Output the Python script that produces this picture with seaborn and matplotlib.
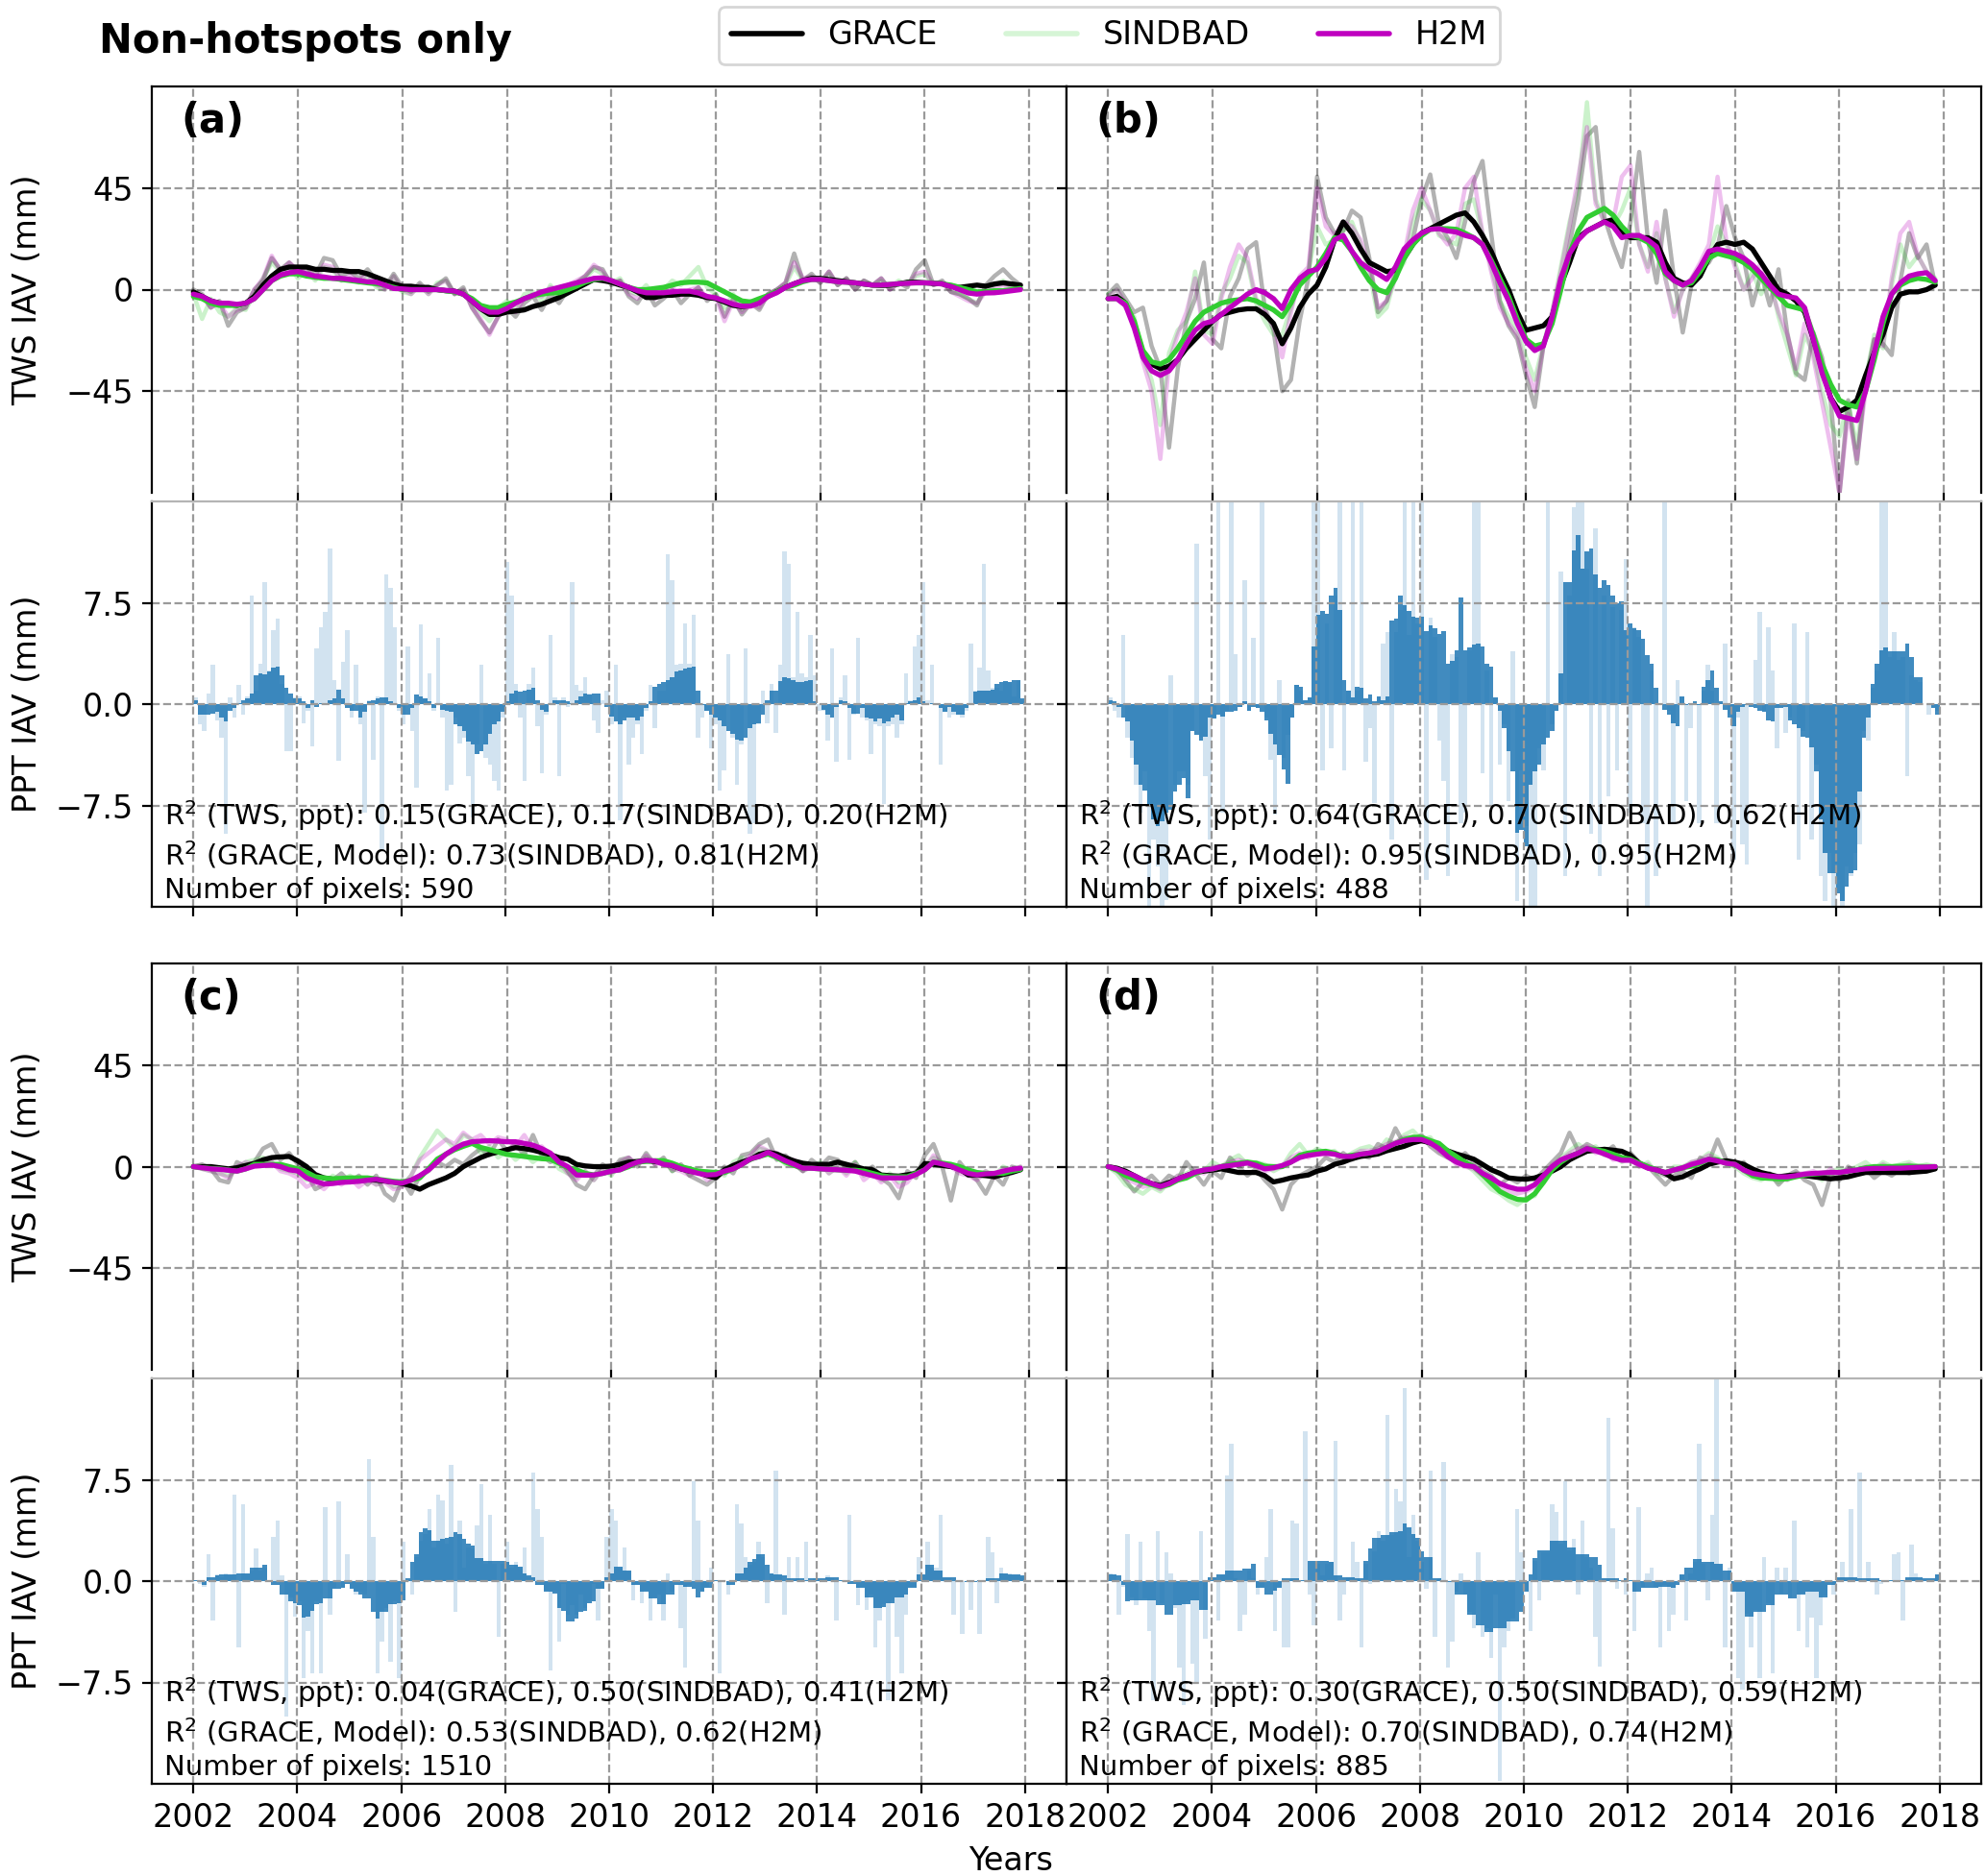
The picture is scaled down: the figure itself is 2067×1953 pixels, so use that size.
import numpy as np
import matplotlib
matplotlib.use("Agg")
import matplotlib.pyplot as plt
from matplotlib.lines import Line2D
import seaborn as sns

# ------------------------------------------------------------------
# Time axes (decimal years): monthly bars, bi-monthly line samples
# ------------------------------------------------------------------
months = 2002 + np.arange(192) / 12.0
bimonths = 2002 + np.arange(96) / 6.0

series_names = ["GRACE", "SINDBAD", "H2M"]
panel_labels = ["(a)", "(b)", "(c)", "(d)"]
r2_tws_ppt = [[0.15, 0.17, 0.20], [0.64, 0.70, 0.62], [0.04, 0.50, 0.41], [0.30, 0.50, 0.59]]
r2_grace_model = [[0.73, 0.81], [0.95, 0.95], [0.53, 0.62], [0.70, 0.74]]
n_pixels = [590, 488, 1510, 885]

# ------------------------------------------------------------------
# Panel (a)
# ------------------------------------------------------------------
a_grace_sm = [-1, -3, -5, -6, -6.5, -7, -6, -3, 2, 6, 9, 10, 10, 10, 9, 9, 8.5, 8.5,
              8, 8, 7, 5.5, 4, 2.5, 1.5, 1.5, 1, 1, 0, -0.5, -0.7, -2, -5, -8.5, -11, -11,
              -10, -9.5, -9, -7.5, -6.5, -5, -3.5, -1.5, 0.5, 2.5, 4.5, 4, 3.3, 2, 1, -1, -3.5, -3.5,
              -2.6, -2.5, -2, -2, -2.5, -3.5, -4, -5.5, -7, -7.5, -7, -5, -3, -1, 1, 2.6, 4, 5,
              5, 4.5, 4, 3.5, 3, 2.5, 2, 1.8, 2, 2.5, 3.3, 3.3, 3, 2.8, 2.6, 1.5, 1, 1.5,
              2, 1.5, 2.5, 3, 2.5, 2]
a_sind_sm = [-3, -4, -6, -7, -7, -7, -6, -4, 0, 4, 6, 7, 7, 6, 5.5, 5, 5, 4.5,
             4, 3.5, 3, 2.6, 2, 1, 0, 0, 0, 0, 0, -0.5, -1, -2, -4, -7, -8, -8,
             -6.5, -5.5, -4, -2.6, -2, -1.5, -1.4, 0, 1.5, 3.3, 4.5, 5, 4, 2.5, 1, 0, 0, 0.5,
             1, 2, 3, 3.3, 3.3, 3, 1, -1, -3, -5, -5.5, -4, -2.6, -1, 1, 2, 3.5, 4.5,
             4.5, 4, 3.5, 3.3, 3, 2.5, 2, 2, 2.3, 2.5, 3, 3, 3, 3, 2.5, 2, 1, 0,
             -1, -1, -0.5, -0.5, 0, 0.5]
a_h2m_sm = [-2, -3, -5, -6, -6, -6.5, -6, -4, 0, 4, 6.5, 7.5, 8, 7, 6, 5.6, 5, 5,
            4.5, 4, 3.5, 3.3, 2, 0.5, 0.3, 0, 0, 0, 0, -0.3, -0.7, -2, -5, -8.4, -10, -10,
            -8.4, -6, -4, -2.6, -1, 0, 1, 2, 3, 4, 5, 5.2, 4, 2.5, 1, -0.5, -1.4, -1.4,
            -1.4, -1, -0.7, -0.7, -1.5, -3, -3.7, -5, -6.5, -7.3, -7.3, -6, -3, -1.4, 1, 2.6, 4, 4.5,
            4.5, 4, 3.5, 3.3, 3, 2.5, 2, 2, 2.3, 2.6, 2.8, 3, 3, 2.8, 2.5, 1.4, 0, -1.5,
            -2, -1.5, -1.4, -1, -0.5, 0]
a_grace_raw = [0, -2, -8, -5, -16, -10, -8, 0, 4, 14, 9, 12, 8, 10, 6, 14, 13, 6,
               8, 5, 9, 4, 1, 7, 1, -1, 3, -1, 2, 5, -2, 1, -8, -14, -19, -12,
               -8, -12, -6, -3, -9, -2, -6, 0, 3, 6, 10, 9, 2, 4, -3, -6, 0, -7,
               -4, 0, -6, -2, 1, -5, -2, -12, -4, -11, -6, -9, -2, 0, 3, 16, 4, 7,
               3, 8, 2, 5, 0, 4, 2, 5, 0, 3, 1, 9, 13, 2, 4, -1, -2, -4,
               -7, 2, 6, 9, 5, 2]
a_sind_raw = [-2, -13, -4, -10, -12, -8, -9, -2, 5, 12, 8, 10, 5, 8, 4, 10, 9, 4,
              5, 3, 6, 1, 0, 6, -1, -2, 2, -2, 3, 4, -2, 0, -6, -10, -14, -8,
              -5, -9, -2, -1, -5, 2, -3, 2, 3, 5, 9, 7, 3, 5, -1, -2, 2, -3,
              0, 4, 2, 6, 10, 1, -2, -8, -2, -9, -5, -6, -2, 0, 2, 10, 4, 6,
              3, 7, 2, 5, 0, 4, 2, 4, 1, 4, 2, 6, 7, 2, 3, -1, -2, -4,
              -6, 0, 2, 4, 1, 0.5]
a_h2m_raw = [-1, -3, -8, -6, -12, -9, -8, 0, 5, 15, 8, 12, 9, 9, 5, 11, 10, 4,
             6, 4, 7, 2, 0, 6, 0, -2, 2, -2, 2, 4, -2, 0, -8, -13, -20, -12,
             -8, -10, -4, -2, -3, 1, 0, 2, 4, 6, 11, 8, 3, 4, -2, -4, 0, -4,
             -2, 1, -3, 0, 1, -4, -3, -14, -5, -10, -6, -8, -2, 0, 3, 12, 5, 6,
             3, 8, 2, 5, 0, 4, 2, 5, 0, 3, 2, 7, 8, 2, 3, -1, -3, -5,
             -6, -1, 1, 2, 0, 0]
a_ppt_sm = [0.3, -0.8, -0.8, -0.8, -0.7, -0.6, -1.0, -1.3, -0.5, -0.3, 0.1, 0.3,
            0.4, 0.8, 2.1, 2.3, 2.2, 2.4, 2.7, 2.8, 2.1, 1.2, 0.8, 0.4,
            0.4, 0.2, -0.3, 0.3, -0.2, 0.1, -0.1, 0.3, 0.4, 1.1, 0.4, -0.3,
            -0.5, -0.5, -1.0, -0.6, 0.2, 0.3, 0.4, 0.5, 0.5, 0.2, 0.0, -0.3,
            -0.8, -0.8, -0.3, 0.7, 0.6, 0.4, 0.2, -0.3, 0.0, -0.4, -0.5, -0.6,
            -1.5, -1.6, -2.0, -2.8, -3.0, -3.7, -3.5, -3.0, -2.2, -1.5, -1.3, -0.6,
            0.2, 0.8, 1.0, 0.9, 1.0, 1.1, 1.2, 0.3, -0.4, -0.6, 0.1, 0.3,
            0.3, 0.3, 0.2, 0.1, 0.3, 0.6, 0.8, 0.7, 0.8, 0.8, 0.0, -0.2,
            -0.9, -1.3, -1.5, -1.2, -1.0, -1.0, -1.2, -0.9, -0.3, 0.2, 1.3, 1.5,
            1.6, 1.8, 2.0, 2.4, 2.5, 2.6, 2.7, 2.8, 1.0, -0.1, -0.5, -0.8,
            -1.0, -1.2, -1.6, -2.0, -2.2, -2.6, -2.7, -2.5, -1.8, -1.5, -1.4, -0.8,
            0.3, 1.0, 1.0, 1.7, 2.0, 1.9, 1.8, 1.6, 1.6, 1.7, 1.8, 0.2,
            0.0, -0.4, -0.8, -1.0, -0.2, 0.3, 0.2, -0.3, -0.7, -0.7, -0.3, -1.0,
            -1.1, -1.3, -1.1, -1.4, -1.3, -1.0, -0.8, -1.2, 0.1, 0.2, 0.3, 0.5,
            0.2, 0.0, 0.1, 0.0, -0.3, -0.6, -0.2, -0.6, -0.8, -0.8, -0.3, 0.1,
            0.9, 1.0, 1.0, 1.0, 1.1, 1.5, 1.6, 1.7, 1.6, 1.8, 1.8, 0.4]
a_ppt_raw = [0.5, -1.5, -2.0, 0.8, 2.9, -1.2, -2.5, -9.6, 0.5, -1.0, 1.4, -0.8,
             0.6, 8.0, 1.0, 3.0, 9.0, 2.5, 5.5, 6.3, 1.5, -3.5, -3.5, 0.5,
             0.6, -1.4, -0.5, -3.1, 4.1, 5.7, 6.8, 11.5, 1.8, -4.2, 3.1, 5.5,
             -1.0, 2.9, -1.5, -8.0, 0.3, -4.1, 0.6, -10.9, 9.6, 8.6, 5.7, -0.5,
             -1.5, 4.3, -2.0, -6.2, 5.9, 0.4, 2.3, -0.5, 4.9, -1.0, -6.4, -6.0,
             -1.0, -2.9, -2.5, -5.3, -8.4, -3.0, 2.9, -4.0, -4.5, -5.7, -6.4, -1.0,
             10.5, 8.0, 1.5, -1.0, -5.7, 1.5, 2.7, -1.6, -5.1, -0.8, 5.1, 0.5,
             -5.3, 0.5, -0.2, 9.0, 1.4, 1.0, 2.0, 0.8, -1.2, -2.1, 0.3, 1.0,
             -1.5, 2.9, -8.6, -1.0, -4.5, -2.5, -1.5, -3.7, -0.5, 1.4, -1.8, 1.0,
             1.0, 11.1, 9.2, 2.9, 3.0, 6.0, 3.0, 6.6, -2.5, -1.0, -0.5, -3.3,
             -1.5, -6.4, -4.9, 3.7, -2.5, -6.0, -3.0, 4.1, -9.6, -8.8, -1.5, 1.0,
             -1.4, 1.5, -2.1, 2.9, 11.3, 10.4, 2.0, 6.8, 2.3, 2.0, 5.1, 2.1,
             -0.5, -0.5, -2.7, 4.1, -4.3, 0.5, 2.1, -4.1, -0.8, 4.9, -1.0, -1.2,
             -3.7, -1.5, -1.6, -7.4, -1.6, -1.5, -2.5, -1.5, 2.3, 0.3, 4.3, 5.1,
             9.0, 0.3, 2.9, 0.0, -4.5, -0.6, -1.0, -0.8, -0.8, -1.0, -0.5, 4.5,
             1.0, 2.7, 10.4, 2.5, 1.2, 1.2, 1.0, 1.6, 1.6, 0.6, 1.8, 0.3]

# ------------------------------------------------------------------
# Panel (b)
# ------------------------------------------------------------------
b_grace_sm = [-4, -3, -6, -15, -28, -33, -35, -34, -31, -26, -22, -18,
              -14, -11, -10, -9, -8.5, -8.5, -11, -15, -24, -17, -8, -2,
              2, 10, 22, 30, 25, 18, 12, 10, 8, 8.5, 14, 20,
              25, 27, 29, 31, 33, 34, 30, 24, 17, 8, 0, -10,
              -18, -17, -16, -12, 2, 12, 23, 26, 28, 30, 31, 25,
              23, 23, 23, 21, 12, 5, 3, 2, 6, 14, 20, 21,
              20, 21, 18, 12, 6, 0, -2, -5, -10, -22, -35, -48,
              -54, -52, -49, -38, -28, -20, -8, -2, -1, -1, 0, 2]
b_sind_sm = [-4, -4, -6, -14, -27, -32, -33, -31, -26, -20, -14, -10,
             -8, -6, -5, -4.5, -4, -5, -7, -9, -12, -6, 2, 6,
             10, 16, 23, 22, 17, 10, 4, 0, -1.4, 5, 14, 20,
             24, 26.7, 27, 27, 26.7, 25, 23, 20, 13, 5, -3, -13,
             -22, -25, -24, -15, 0, 16, 26, 32, 34, 36, 33, 28,
             24, 23, 21, 16, 7, 4, 2, 3, 8, 14, 16, 15,
             14, 12, 9, 5, 1, -3, -7, -8, -9, -20, -33, -42,
             -49, -51, -52, -45, -31, -15, -2, 2, 4, 5, 4.5, 3.3]
b_h2m_sm = [-4, -4, -7, -17, -30, -36, -38, -36, -31, -24, -18, -15,
            -14, -11, -8, -5, -2, 0, -1.4, -4, -8.4, 0, 5, 8,
            9, 14, 22, 24, 17, 12, 9, 7, 4.5, 10, 18, 22,
            25, 26.7, 27, 26, 25.5, 24, 23, 20, 12, 3, -5, -15,
            -23, -27, -25, -12, 5, 16, 22, 26, 28, 30, 28, 23,
            24, 24, 22, 19, 8, 4, 2, 4, 10, 17, 18, 17,
            16, 14, 11, 7, 2, -2, -3, -3.7, -8, -22, -37, -48,
            -56, -57, -58, -45, -28, -12, -2, 3, 6, 7, 7.5, 4]
b_grace_raw = [-2, 2, -4, -10, -8, -25, -35, -70, -35, -14, -4, 12,
               -22, -26, -3, 5, 18, 21, -8, -18, -45, -40, -14, 5,
               50, 32, 25, 26, 35, 32, 14, -10, -5, 8, 16, 22,
               40, 51, 29, 23, 14, 30, 48, 57, 25, -5, -16, -22,
               -38, -52, -25, -12, 0, 20, 40, 68, 72, 32, 20, 10,
               30, 61, 22, 3, 35, 5, -19, 2, 9, 12, 19, 37,
               23, 14, -7, 7, -7, 9, -19, -37, -40, -19, -30, -50,
               -91, -49, -77, -40, -22, -24, -29, 4, 25, 14, 20, 2]
b_sind_raw = [-2, 0, -8, -12, -30, -40, -60, -28, -18, -14, 8, -18,
              -20, -2, 5, 15, 12, -6, -14, -20, -20, -8, 4, 8,
              28, 20, 22, 26, 30, 20, 8, -12, -8, 6, 12, 30,
              40, 35, 24, 22, 20, 38, 40, 25, 10, -5, -12, -18,
              -30, -40, -24, -10, 10, 30, 45, 83, 40, 30, 28, 35,
              45, 20, 10, 25, 5, -10, 0, 5, 10, 15, 28, 20,
              12, 0, 8, -2, 5, -12, -25, -38, -20, -28, -45, -60,
              -65, -50, -70, -40, -20, -26, 2, 20, 10, 15, 8, 5]
b_h2m_raw = [-3, 0, -6, -14, -32, -45, -75, -32, -20, -10, 5, -20,
             -24, -4, 10, 20, 14, -4, -10, -16, -30, -10, 6, 10,
             45, 28, 24, 30, 28, 22, 10, -8, -5, 5, 15, 35,
             45, 35, 25, 20, 25, 45, 50, 25, 8, -8, -15, -20,
             -35, -45, -25, -10, 8, 28, 50, 72, 38, 30, 30, 50,
             55, 20, 8, 30, 5, -12, 0, 5, 12, 20, 50, 22,
             10, 0, 5, 12, 2, -10, -20, -35, -15, -30, -50, -70,
             -90, -55, -75, -45, -22, -25, 5, 25, 30, 15, 8, 4]
b_ppt_sm = [0.3, 0.2, -0.2, -1.0, -1.3, -2.7, -4.5, -6.0, -6.4, -7.5, -8.5, -9.0,
            -8.7, -8.0, -7.8, -6.5, -6.0, -5.5, -7.0, -2.0, -2.3, -2.7, -2.4, -1.0,
            -1.1, -0.8, -0.9, -0.6, -0.6, -0.5, -0.2, 0.2, -0.5, -0.2, -0.3, -0.6,
            -1.2, -2.2, -3.0, -3.8, -4.8, -5.9, -1.0, 1.4, 1.3, 0.3, 0.5, 4.3,
            6.6, 6.9, 6.7, 8.0, 8.6, 7.0, 1.8, 1.0, 0.5, 1.3, 1.2, 0.4,
            0.7, 0.2, 0.6, 0.3, 0.6, 6.2, 6.3, 8.0, 7.3, 6.9, 6.5, 6.4,
            6.5, 5.4, 5.8, 5.6, 5.2, 5.4, 3.0, 3.2, 4.0, 7.9, 4.0, 4.2,
            4.4, 4.5, 4.3, 3.0, 2.8, 0.5, -0.5, -1.8, -3.5, -5.0, -9.5, -9.3,
            -10.5, -6.0, -5.0, -4.5, -3.0, -2.5, -2.0, -0.5, 2.3, 9.0, 9.0, 11.4,
            12.5, 10.0, 11.3, 11.5, 9.6, 8.6, 9.2, 8.8, 8.0, 7.5, 7.6, 5.5,
            6.0, 5.6, 5.5, 4.8, 3.6, 3.0, 1.2, 0.0, -0.4, -0.8, -1.4, -1.6,
            0.6, -0.1, 0.1, 0.2, -0.1, 1.3, 1.8, 2.5, 1.2, 0.2, -0.4, -1.0,
            -1.6, -0.6, -0.2, -0.1, -0.2, -0.3, -0.5, -0.6, -1.2, -1.3, -0.3, -0.3,
            -0.2, -1.2, -1.5, -1.8, -2.4, -2.5, -3.2, -5.0, -8.5, -11.0, -12.5, -12.5,
            -14.0, -14.6, -13.5, -12.5, -12.3, -6.5, -2.5, -1.0, 1.5, 3.0, 4.0, 4.2,
            3.9, 3.9, 3.9, 3.9, 4.5, 3.5, 2.0, 2.0, 0.0, 0.0, -0.3, -0.8]
b_ppt_raw = [0.5, -0.5, -1.0, 5.1, -2.5, -4.0, -6.0, -8.0, -5.0, -15.0, -10.0, -12.0,
             -15.0, -14.5, 2.1, -6.0, -5.0, -5.0, -6.0, -2.0, 11.9, -2.5, -5.3, -10.0,
             -1.0, 16.0, -8.0, -0.5, 16.0, 3.7, -0.2, 9.2, -0.5, 4.9, -0.3, 16.0,
             -1.0, -4.1, -8.2, 1.8, -4.0, -2.3, -1.0, 1.4, 1.0, 0.3, 0.5, 16.0,
             16.0, -4.9, 6.0, -3.3, 8.0, 16.0, -4.9, 1.0, 16.0, 1.0, 16.0, -4.3,
             -1.8, -7.3, 0.5, 4.5, 5.3, -10.0, 5.3, 7.0, 16.0, 5.1, 16.0, 6.0,
             16.0, -13.0, 6.4, 5.0, -2.7, -5.7, -12.7, 3.7, 3.5, -8.8, -8.0, 4.0,
             16.0, 16.0, -5.1, 2.5, -7.6, 0.4, -4.5, -1.5, -7.2, 3.9, -14.6, -4.9,
             -9.0, -16.0, -16.0, -3.3, -4.9, 16.0, -1.5, -0.5, 9.8, -12.7, 8.0, 14.6,
             16.0, 16.0, 10.0, -9.6, 13.0, -12.7, 8.0, -6.8, 7.2, -4.9, 7.0, 10.7,
             -8.0, 5.7, 5.0, -8.8, -16.0, 2.5, -12.7, 0.0, 16.0, -0.5, -8.8, 1.8,
             0.5, -7.2, -1.8, 0.1, -8.8, 1.0, 2.9, 1.0, -8.8, 0.1, 4.5, -0.8,
             -11.5, -1.0, -10.4, -11.9, -0.1, 3.3, 6.8, -0.5, 5.7, 2.5, -3.3, -0.2,
             -2.1, -1.0, 6.0, -11.5, -2.0, 5.3, -10.0, -4.5, -12.7, -14.6, -11.0, -16.0,
             -13.0, -16.0, -12.0, -12.7, -11.0, -10.4, -2.0, -2.7, 1.2, 2.5, 16.0, 16.0,
             3.5, 5.3, 3.3, 3.5, -5.3, 2.1, 1.8, 1.6, 0.0, -0.8, -0.2, -0.5]

# ------------------------------------------------------------------
# Panel (c)
# ------------------------------------------------------------------
c_grace_sm = [0, 0, 0, -0.5, -1, -0.5, 0.5, 1.4, 3, 4, 4.3, 4.5,
              2.5, 0, -3.5, -5, -5.6, -5.6, -5.6, -5.6, -5.8, -6, -6.4, -6.8,
              -7.5, -8.5, -10, -8, -6.5, -5, -3, 0, 2, 4, 5.5, 6.5,
              7.5, 8.4, 8, 7.3, 6.3, 5.3, 4, 3.3, 1, 0.3, 0, 0,
              0.2, 1, 2, 2.3, 2.6, 2.3, 2, 0.5, -1, -2, -2.6, -4,
              -5, -1.4, 0.5, 2, 3.3, 5.5, 6.3, 5.6, 4, 2.5, 1.5, 1,
              1, 1, 2, 1, 0, -1, -1.4, -3.7, -4, -4.2, -3.6, -3,
              1.4, 1, 0.5, 0, -1, -3.7, -3.7, -4, -4.5, -3.5, -2.6, -1.4]
c_sind_sm = [0, -0.5, -0.8, -1, -1.5, -2, -1, 1, 1, 1, 1, 0,
             -1, -2.5, -4.5, -5, -5.4, -5.2, -5, -5, -5, -5.5, -6, -6.5,
             -6.8, -6, -5, -1, 3.3, 5.5, 7.5, 9, 10.3, 8.5, 7.5, 6.5,
             5.4, 5, 4.5, 4, 3.5, 3.3, 1.5, -0.5, -1.4, -3, -3.7, -3,
             -2, -1.4, 0, 2, 2.3, 2.6, 2.6, 1.5, 0, -1, -2, -2.3,
             -2.6, -2.6, -1, 1, 3.3, 4.5, 5.6, 4, 2, 0.5, -0.7, -0.7,
             -1, -1.2, -1.4, -1.6, -1.6, -2, -3, -4, -4.5, -4.5, -4.5, -3,
             -1.4, 2, 1.5, 1, 0, -1.5, -2.6, -3, -3, -3, -2, -1.2]
c_h2m_sm = [0, -0.5, -1, -1.2, -1.6, -2, -1, 0.2, 0.5, 0.7, 0, -1.4,
            -2, -5, -6.5, -7.7, -7.5, -7, -6.8, -6.5, -6, -5.6, -6.3, -7,
            -7.3, -6, -4, -1.5, 2, 5.5, 8, 10, 11, 11.3, 11.5, 11.3,
            11, 11, 10.3, 9.5, 8, 6, 2, 0, -3.7, -3.8, -3.7, -3,
            -2, -1.4, 0.5, 2, 2.8, 2.5, 1, 0.5, -1, -2, -3, -3.7,
            -3.5, -2, -1, 1, 3.5, 4.5, 6.3, 4.5, 2.6, 1, -0.7, -0.7,
            -1, -1.2, -1.4, -1.6, -2, -3, -4, -5, -5, -5, -5, -3.5,
            -1.4, 2, 1.2, 0.2, -1.5, -3, -3.7, -3.2, -3, -2, -1.2, -0.7]
c_grace_raw = [0, 1, -1, -6, -7, 2, 0, 2, 8, 10, 3, 6,
               1, -3, -10, -8, -6, -3, -7, -4, -8, -4, -12, -15,
               -6, -12, -4, -2, 2, 0, 3, 1, 5, 8, 5, 12,
               7, 10, 5, 14, 5, 2, 4, -2, -8, -10, -4, 1,
               -2, 3, 4, 0, 6, 1, 4, -2, 1, -4, -6, -8,
               -5, 0, -3, 5, 6, 10, 12, 3, 5, 1, -2, 3,
               0, 4, 3, -1, 2, -3, 0, -5, -8, -14, -2, -5,
               5, 10, 0, -15, 2, -3, -6, -12, -4, -8, 0, -1]
c_sind_raw = [0, -1, -2, -3, -4, -1, 2, 3, 4, 2, -1, -2,
              -3, -6, -5, -8, -4, -6, -4, -7, -5, -8, -6, -9,
              -8, -4, 4, 10, 16, 12, 8, 14, 12, 6, 9, 4,
              7, 3, 6, 2, 5, 4, -1, -3, -5, -2, -6, -1,
              -4, 2, 3, 1, 4, 2, 3, -2, 0, -4, -1, -4,
              -2, -4, 2, 4, 3, 8, 7, 5, 1, 2, -2, 0,
              2, -3, 0, -3, 2, -4, -2, -6, -3, -7, -5, -2,
              0, 4, 2, 1, -2, -3, -5, -2, -4, 0, -2, 0]
c_h2m_raw = [0, -1, -2, -3, -5, 0, 2, 1, 3, 2, -2, -3,
             -5, -9, -7, -10, -6, -8, -5, -9, -6, -8, -7, -10,
             -9, -4, 3, 6, 9, 12, 10, 15, 12, 14, 10, 13,
             12, 9, 14, 8, 9, 5, 2, -3, -6, -2, -6, -1,
             -3, 2, 4, 1, 5, 1, 2, -1, -2, -4, -2, -6,
             -4, -3, 1, 2, 5, 9, 7, 6, 2, 3, -2, 0,
             1, -3, 0, -4, 1, -6, -3, -7, -4, -9, -7, -2,
             -1, 5, 1, 0, -3, -4, -6, -2, -5, -1, -2, 0]
c_ppt_sm = [0.05, 0.0, -0.3, 0.3, 0.3, 0.4, 0.5, 0.5, 0.5, 0.5, 0.6, 0.6,
            0.6, 1.0, 1.0, 1.0, 1.2, -0.1, -0.3, -0.3, -1.0, -1.0, -1.5, -1.6,
            -1.8, -2.7, -2.6, -2.2, -1.7, -1.6, -1.3, -1.3, -0.6, -0.6, -0.5, -0.2,
            -0.6, -0.8, -1.0, -1.3, -1.3, -2.3, -2.8, -2.3, -2.3, -1.7, -1.7, -1.6,
            -1.4, 0.2, 1.4, 2.0, 3.6, 3.9, 3.8, 3.0, 3.0, 3.1, 3.2, 3.3,
            3.6, 3.5, 3.1, 2.8, 2.6, 1.7, 1.7, 1.5, 1.5, 1.5, 1.5, 1.5,
            1.4, 1.2, 1.2, 1.1, 0.6, 0.4, 0.3, -0.3, -0.3, -0.8, -0.8, -0.9,
            -2.0, -2.2, -3.0, -3.0, -2.8, -2.3, -2.2, -1.6, -1.5, -0.6, -0.6, 0.3,
            0.6, 1.1, 1.1, 0.8, 0.8, -0.3, -0.3, -0.8, -0.8, -1.3, -1.3, -1.7,
            -1.7, -1.0, -1.0, -0.3, -0.3, -0.4, -0.4, -0.6, -1.2, -0.8, -0.5, -0.5,
            0.1, 0.1, 0.0, -0.3, -0.3, 0.6, 0.6, 1.0, 1.4, 1.6, 2.0, 2.0,
            1.2, 0.6, 0.5, 0.5, 0.4, 0.2, 0.2, 0.2, 0.2, 0.1, 0.2, 0.2,
            0.2, 0.2, 0.3, 0.3, 0.3, 0.1, 0.1, -0.2, -0.2, -0.5, -0.5, -1.2,
            -1.2, -2.0, -2.0, -1.9, -1.6, -1.6, -1.2, -1.2, -1.0, -0.5, -0.5, 0.5,
            0.5, 1.2, 1.2, 0.8, 0.8, 0.3, 0.3, 0.3, 0.0, 0.0, -0.1, -0.1,
            -0.1, 0.1, 0.1, 0.2, 0.2, 0.2, 0.6, 0.6, 0.5, 0.5, 0.5, 0.4]
c_ppt_raw = [0.1, -0.2, -0.4, 2.0, -2.9, 0.5, 0.3, 0.6, 0.4, 6.4, -4.9, 5.7,
             0.5, 0.8, 2.4, 0.8, 1.0, -0.1, 3.3, 4.5, 0.4, -10.0, -1.2, -2.6,
             -1.5, -7.2, -3.7, -6.8, -1.5, -6.8, 5.5, -2.5, -0.5, 5.9, -0.4, 2.0,
             -0.5, -1.0, -0.8, -1.0, 9.0, 3.3, -6.8, -4.5, -2.0, -6.0, -1.5, -7.2,
             2.9, 0.1, -1.0, 1.8, 3.0, 3.5, 5.3, 2.5, 6.4, 6.0, 2.8, 8.6,
             -2.3, 4.5, 1.0, 2.5, 2.4, 4.1, 7.2, 1.3, 4.9, 1.3, -4.1, 1.3,
             2.9, 1.0, 1.4, 1.0, 2.5, 0.3, 8.0, 5.3, 3.3, -0.7, -6.6, -0.8,
             -4.5, -0.2, -2.5, -1.8, -2.5, -1.0, -2.0, -1.4, -0.2, -2.9, -0.5, 3.3,
             5.3, 4.5, 1.0, 2.5, 0.7, -1.4, -0.2, -1.6, -0.7, -2.9, -1.2, -1.0,
             -2.9, 0.6, -0.8, -0.2, -3.5, -6.4, -0.3, 7.4, 4.5, -0.7, -0.4, 1.0,
             0.1, -6.8, 0.0, -1.0, -0.2, 5.7, 4.3, 1.8, 1.2, 1.4, 2.9, 1.8,
             -1.6, 0.5, 8.2, 0.4, -2.5, 1.8, 0.1, 1.8, 0.1, 2.9, 0.1, 0.2,
             0.1, 0.1, 0.4, 0.2, -2.9, 0.1, 0.0, 4.9, -0.1, -1.8, -0.4, -2.1,
             -1.0, -4.9, -2.9, -1.7, -8.8, -1.4, -4.1, -6.8, -2.5, -0.4, -0.4, 1.8,
             0.4, 2.9, 1.0, 1.0, 4.9, 0.2, 0.2, -2.5, -0.1, -3.9, -0.1, -2.1,
             -0.1, -3.9, 0.1, 3.3, 2.1, -1.6, 1.0, 0.5, 0.6, 0.4, 0.4, 0.3]

# ------------------------------------------------------------------
# Panel (d)
# ------------------------------------------------------------------
d_grace_sm = [0, -0.7, -2, -4, -6, -7.5, -8.4, -7, -5.6, -4, -2.6, -2,
              -1.5, -1, -1.8, -2.6, -2.6, -2.6, -4, -6.8, -6, -5, -4.3, -3.7,
              -2, -1, 1, 2, 3.5, 4.5, 5, 5.6, 7, 8, 9, 10.5,
              11.5, 10.5, 9, 7, 5.6, 4.5, 3.3, 1, -1.4, -3, -5, -5.4,
              -5.6, -5, -3.7, -2, 0, 3, 5, 6.8, 7.3, 7.7, 7.3, 6.8,
              5, 1.5, -0.5, -1.4, -3, -5.4, -4.5, -2.6, -1, 1, 2, 2.6,
              2, 1, -1, -2.6, -3.5, -4.5, -4, -3.7, -4, -4.5, -5, -5.4,
              -5, -4.5, -3.5, -2.6, -2.6, -2.6, -2.6, -2.6, -2.6, -2.3, -2, -1]
d_sind_sm = [0, -1.5, -4, -5.5, -6.8, -8, -9, -8, -6, -5, -3, -1.5,
             -1, 0, 1, 1.5, 2, 1.5, 0.2, 0, 0, 2, 5, 6,
             6.5, 6.8, 6, 4.5, 5, 5.5, 6, 6.8, 8.5, 10.3, 12, 13,
             13, 11.5, 10.3, 7, 4.5, 2, 0, -3.5, -7.3, -11, -13, -14.5,
             -14.8, -12, -7, -1.4, 2, 4.5, 6, 8, 7.5, 6.8, 5.5, 4,
             3.3, 1.5, 0, -1.5, -2.6, -1.5, -0.5, 0.2, 1.5, 3.3, 3, 1.5,
             1, -1.5, -4, -5, -5.2, -5.4, -5.4, -4.5, -3.7, -3.3, -3, -2.6,
             -2.6, -2, -1.5, -0.5, 0, 0, 0, 0.2, 0.2, 0.1, 0, 0]
d_h2m_sm = [0, -1, -2.5, -4, -6, -7.5, -8.8, -7.5, -5.5, -4, -2.5, -1.5,
            -1, 0, 0.5, 1, 1.6, 0.5, -1, -0.5, 0.5, 2, 4, 5,
            5.5, 6, 5.5, 4.5, 4.5, 5.5, 6, 6.8, 8.5, 10.3, 11.5, 12,
            12, 10.5, 8, 4.5, 2, 0.5, 0, -3, -5, -7.5, -9, -10,
            -10, -8, -4, 0, 3, 4.5, 6, 8, 7, 5.6, 4, 2.8,
            2.8, 1, -0.7, -1.5, -2.6, -1.5, -0.5, 1, 2, 3.3, 2.5, 1.5,
            1, -1.5, -3, -3.7, -4.2, -4.5, -4.5, -4, -3.3, -3, -2.8, -2.6,
            -2.6, -2, -1.5, -1, -0.8, -0.8, -0.7, -0.7, -0.5, -0.3, -0.2, 0]
d_grace_raw = [0, -1, -6, -11, -7, -4, -8, -4, -6, 2, -3, -8,
               -2, -5, 4, 0, -4, -1, -6, -10, -19, -8, -4, -2,
               0, 4, 2, 6, 3, 5, 4, 10, 8, 17, 10, 12,
               14, 9, 6, 4, 2, 6, 2, -2, -4, -8, -5, -7,
               -4, -6, -2, 2, 6, 15, 7, 10, 8, 6, 9, 3,
               6, 2, 0, -4, -8, -4, -2, -5, 4, 2, 12, 3,
               0, 2, -4, -5, -3, -8, -4, -2, -6, -8, -17, -4,
               -6, 0, -3, -1, -5, -2, -4, -1, -3, -2, -1, 0]
d_sind_raw = [0, -3, -8, -10, -12, -9, -11, -7, -4, -3, -1, -2,
              2, 0, 3, 5, 1, 2, 1, -2, 0, 6, 10, 5,
              8, 6, 7, 3, 6, 8, 9, 7, 12, 10, 14, 16,
              12, 13, 8, 7, 3, 1, -2, -6, -10, -12, -15, -17,
              -14, -13, -4, 0, 4, 7, 10, 7, 9, 5, 6, 2,
              4, 0, 2, -3, -4, 0, 0, 2, 3, 6, 4, 1,
              0, -3, -5, -6, -4, -7, -5, -3, -4, -3, -6, -2,
              -1, -2, 0, 2, -1, 2, 0, 1, 2, 0, 1, 0]
d_h2m_raw = [0, -2, -5, -7, -9, -8, -10, -7, -4, -5, -1, -3,
             0, 0, 2, 3, 2, 0, -2, -1, 0, 4, 6, 4,
             7, 5, 6, 3, 5, 7, 7, 8, 10, 11, 13, 13,
             11, 12, 7, 5, 1, 0, -1, -4, -6, -9, -11, -12,
             -11, -9, -5, 1, 3, 6, 8, 9, 6, 7, 3, 4,
             3, 0, 1, -2, -4, -1, -1, 2, 3, 5, 3, 1,
             2, -2, -4, -3, -5, -5, -6, -3, -3, -2, -4, -1,
             -4, -1, -2, 0, -1, 1, -1, 0, 1, -1, 0, 0]
d_ppt_sm = [0.5, 0.5, 0.4, -0.3, -1.5, -1.4, -1.4, -1.4, -1.4, -1.4, -1.4, -1.8,
            -1.8, -2.5, -2.5, -1.8, -1.8, -1.7, -1.7, -1.4, -1.4, -2.1, -2.1, 0.3,
            0.3, 0.5, 0.5, 0.8, 0.8, 0.8, 0.8, 0.9, 0.9, 1.3, -0.5, -0.5,
            -1.0, -1.0, -0.7, -0.5, 0.2, 0.2, 0.2, 0.2, 0.1, 0.1, 1.5, 1.5,
            1.5, 1.5, 1.5, 1.4, 0.4, 0.4, 0.3, 0.3, 0.3, 0.2, 0.2, 1.5,
            2.4, 3.2, 3.2, 3.4, 3.4, 3.6, 3.6, 3.7, 4.3, 4.0, 3.5, 3.2,
            2.2, 1.8, 1.8, 0.2, 0.2, -0.1, -0.1, -0.1, -1.0, -1.0, -1.0, -2.5,
            -2.5, -3.3, -3.3, -3.8, -3.8, -3.5, -3.5, -3.5, -3.0, -3.0, -3.0, -2.3,
            -0.8, 0.5, 1.7, 2.3, 2.3, 2.3, 3.0, 3.0, 3.0, 3.0, 2.5, 2.5,
            2.0, 2.0, 2.0, 1.8, 1.8, 1.2, 0.2, 0.2, 0.2, 0.2, 0.1, 0.2,
            0.1, -0.8, -0.8, -0.5, -0.5, -0.5, -0.5, -0.4, -0.4, -0.4, -0.5, -0.3,
            0.5, 1.0, 1.0, 1.6, 1.6, 1.4, 1.4, 1.4, 1.3, 1.3, 0.8, 0.8,
            -0.8, -0.8, -0.8, -2.6, -2.6, -2.3, -2.3, -2.3, -1.8, -1.8, -1.0, -1.0,
            -1.0, -1.3, -1.3, -1.0, -1.0, -0.8, -0.8, -0.8, -1.2, -1.2, -0.3, -0.3,
            0.3, 0.3, 0.3, 0.3, 0.3, 0.2, 0.2, 0.2, 0.2, 0.2, 0.1, 0.1,
            0.1, 0.1, 0.1, 0.1, 0.3, 0.3, 0.3, 0.3, 0.2, 0.2, 0.2, 0.5]
d_ppt_raw = [0.6, 0.4, -2.5, -0.4, 3.5, -1.2, -1.8, 2.9, -1.3, -3.7, -8.8, 3.7,
             -1.6, 2.1, 0.6, -2.0, -6.4, -9.2, -1.5, -6.1, -7.6, 3.7, -4.3, 0.2,
             0.2, -2.9, 0.4, 7.8, 10.2, 0.2, -3.7, -2.5, 0.8, 0.2, -1.0, -0.4,
             1.8, 5.3, -3.7, -0.4, -4.9, -4.9, 4.5, 4.3, 0.1, 11.1, -1.0, -3.3,
             1.3, 0.4, 1.3, 1.4, 10.4, -2.9, -1.0, 0.3, 2.9, 1.4, -4.9, 1.3,
             -0.2, 2.2, 3.7, 3.0, 12.3, 3.4, 6.8, 5.9, 14.3, 1.8, 4.9, 3.0,
             1.4, -0.6, 8.2, -4.1, 0.2, 8.8, -6.4, -4.5, -0.8, 0.6, -1.0, -2.3,
             -3.5, 2.1, -4.1, -3.5, -5.7, -1.0, -14.8, -4.9, -3.7, -2.8, 5.3, 2.1,
             -0.7, -3.7, 1.5, -1.4, 2.1, 2.1, 5.7, 5.1, 2.8, 7.4, 2.3, 3.1,
             -1.0, 4.5, 1.8, 1.0, -4.1, -6.3, 0.2, 12.1, 3.9, -0.6, 0.1, -1.0,
             0.1, -3.7, 5.5, -0.4, 0.6, 1.0, -0.4, -4.9, -0.3, -3.7, -2.5, 0.0,
             0.4, -2.9, 0.6, 1.4, 10.2, 1.3, -1.4, 4.9, 16.0, 1.2, -4.9, 1.0,
             -0.7, -7.2, -8.0, -2.4, -4.9, -2.1, -7.2, 1.8, -1.6, -6.8, 1.0, -0.9,
             1.0, -1.2, 4.5, -3.7, -0.9, -4.9, -2.7, -7.2, -3.3, -1.1, -0.2, -1.0,
             0.2, 1.4, 0.2, 5.3, 0.2, 8.0, 0.1, 1.4, 0.1, -1.0, -0.2, 0.1,
             0.1, 2.0, 2.1, -2.9, 0.2, 2.7, 0.6, 0.2, 0.0, 0.1, 0.1, 0.4]

panels = [
    dict(g=a_grace_sm, s=a_sind_sm, h=a_h2m_sm, gr=a_grace_raw, sr=a_sind_raw, hr=a_h2m_raw,
         p=a_ppt_sm, pr=a_ppt_raw),
    dict(g=b_grace_sm, s=b_sind_sm, h=b_h2m_sm, gr=b_grace_raw, sr=b_sind_raw, hr=b_h2m_raw,
         p=b_ppt_sm, pr=b_ppt_raw),
    dict(g=c_grace_sm, s=c_sind_sm, h=c_h2m_sm, gr=c_grace_raw, sr=c_sind_raw, hr=c_h2m_raw,
         p=c_ppt_sm, pr=c_ppt_raw),
    dict(g=d_grace_sm, s=d_sind_sm, h=d_h2m_sm, gr=d_grace_raw, sr=d_sind_raw, hr=d_h2m_raw,
         p=d_ppt_sm, pr=d_ppt_raw),
]
for i, pnl in enumerate(panels):
    for k, v in pnl.items():
        need = 192 if k in ("p", "pr") else 96
        if len(v) != need:
            raise ValueError(f"panel {i} series {k}: {len(v)} != {need}")

# ------------------------------------------------------------------
# Style
# ------------------------------------------------------------------
sns.set_style("ticks", rc={"axes.edgecolor": "black", "xtick.color": "black",
                           "ytick.color": "black", "text.color": "black",
                           "axes.labelcolor": "black"})
plt.rcParams["font.family"] = ["DejaVu Sans"]
plt.rcParams["mathtext.fontset"] = "dejavusans"
plt.rcParams["axes.axisbelow"] = "line"
plt.rcParams["axes.linewidth"] = 0.8

C_GRACE, C_SIND, C_H2M = "black", "limegreen", "m"
C_BAR = "tab:blue"

W, H = 2067, 1953
fig = plt.figure(figsize=(W / 200, H / 200), dpi=200)

col_left = [158 / W, 1110 / W]
ax_w = 952 / W
tws_bottom = [(H - 513) / H, (H - 1426) / H]
ppt_bottom = [(H - 944) / H, (H - 1857) / H]
tws_h = 423 / H
ppt_h = 422 / H

for i, pnl in enumerate(panels):
    row, col = divmod(i, 2)
    ax_t = fig.add_axes([col_left[col], tws_bottom[row], ax_w, tws_h])
    ax_p = fig.add_axes([col_left[col], ppt_bottom[row], ax_w, ppt_h])

    # raw (faded) TWS series
    for key, c, a in (("gr", C_GRACE, 0.3), ("sr", C_SIND, 0.25), ("hr", C_H2M, 0.25)):
        sns.lineplot(x=bimonths, y=pnl[key], ax=ax_t, color=c, alpha=a, linewidth=1.6,
                     legend=False, estimator=None)
    # smoothed TWS series
    for key, c in (("g", C_GRACE), ("s", C_SIND), ("h", C_H2M)):
        sns.lineplot(x=bimonths, y=pnl[key], ax=ax_t, color=c, linewidth=1.9,
                     legend=False, estimator=None)

    # precipitation anomalies
    ax_p.bar(months, pnl["pr"], width=1 / 12, align="edge", color=C_BAR, alpha=0.2, linewidth=0)
    ax_p.bar(months, pnl["p"], width=1 / 12, align="edge", color=C_BAR, alpha=0.85, linewidth=0)

    ax_t.set_xlim(2001.204, 2018.713)
    ax_t.set_ylim(-90, 90)
    ax_t.set_yticks([-45, 0, 45])
    ax_p.set_xlim(2001.2, 2018.8)
    ax_p.set_ylim(-15, 15)
    ax_p.set_yticks([-7.5, 0, 7.5])
    for ax in (ax_t, ax_p):
        ax.set_xticks(range(2002, 2019, 2))
        ax.grid(True, linestyle="--", color="#9a9a9a", linewidth=0.8)
        ax.tick_params(labelsize=12, direction="out")
        ax.set_xlabel("")
        ax.set_ylabel("")
        if col == 1:
            ax.tick_params(labelleft=False)
    ax_t.tick_params(labelbottom=False)
    ax_t.spines["bottom"].set_visible(False)
    ax_p.spines["top"].set_color("#b4b4b4")
    if row == 0:
        ax_p.tick_params(labelbottom=False)

    ax_t.text(0.032, 0.914, panel_labels[i], transform=ax_t.transAxes, fontsize=15,
              fontweight="bold", ha="left", va="center")
    r1 = r2_tws_ppt[i]
    r2 = r2_grace_model[i]
    lines = [
        "R$^2$ (TWS, ppt): " + ", ".join(f"{v:.2f}({n})" for v, n in zip(r1, series_names)),
        "R$^2$ (GRACE, Model): " + f"{r2[0]:.2f}(SINDBAD), {r2[1]:.2f}(H2M)",
        f"Number of pixels: {n_pixels[i]}",
    ]
    for txt, yb in zip(lines, (0.201, 0.104, 0.021)):
        ax_p.text(0.0137, yb, txt, transform=ax_p.transAxes, fontsize=10.5,
                  ha="left", va="baseline")

    if col == 0:
        fig.text(29 / W, tws_bottom[row] + tws_h / 2, "TWS IAV (mm)", rotation=90,
                 ha="center", va="center", fontsize=12)
        fig.text(29 / W, ppt_bottom[row] + ppt_h / 2, "PPT IAV (mm)", rotation=90,
                 ha="center", va="center", fontsize=12)

fig.text(0.0498, 0.978, "Non-hotspots only", fontsize=15, fontweight="bold",
         ha="left", va="center")
fig.text(0.509, 0.003, "Years", ha="center", va="baseline", fontsize=12)

handles = [Line2D([], [], color=C_GRACE, lw=2),
           Line2D([], [], color=C_SIND, alpha=0.2, lw=2),
           Line2D([], [], color=C_H2M, lw=2)]
fig.legend(handles, series_names, loc="upper center", bbox_to_anchor=(0.5585, 0.9964),
           ncol=3, fontsize=12, borderaxespad=0, frameon=True, handlelength=2.2,
           columnspacing=2.15)

fig.savefig("out.png", dpi=200)
